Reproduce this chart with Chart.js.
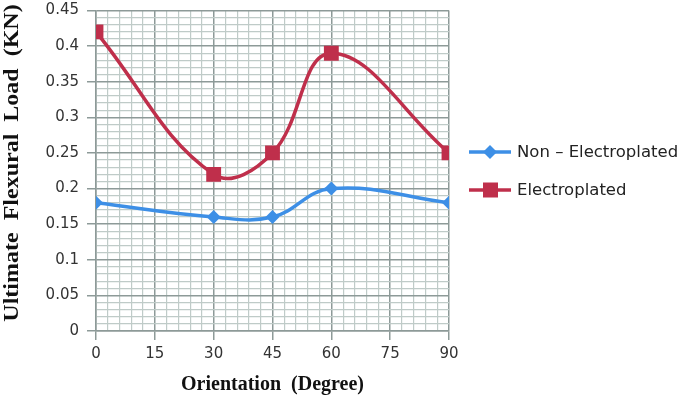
<!DOCTYPE html>
<html>
<head>
<meta charset="utf-8">
<script src="https://cdn.jsdelivr.net/npm/chart.js@4"></script>
<style>
  body { margin: 0; background: #fff; }
</style>
</head>
<body>
<canvas id="grafico" width="685" height="401"></canvas>
<script>
const orientaciones = [0, 30, 45, 60, 90];
const noElectro = [0.18, 0.16, 0.16, 0.20, 0.18];
const electro = [0.42, 0.22, 0.25, 0.39, 0.25];
const nombres = ["Non \u2013 Electroplated", "Electroplated"];
const tituloY = "Ultimate  Flexural  Load  (KN)";

const azul = "#3d8fe6";
const rojo = "#bf2f4b";
const gridMayor = "#8d9a98";
const gridMenor = "#bfcbc8";

function puntos(valores) {
  return orientaciones.map((x, i) => ({ x: x, y: valores[i] }));
}

// leyenda y titulo del eje Y dibujados a mano
const extras = {
  id: "extras",
  afterDraw(chart) {
    const ctx = chart.ctx;
    const items = [
      { color: azul, y: 152, forma: "diamante" },
      { color: rojo, y: 190, forma: "cuadro" }
    ];
    ctx.save();
    items.forEach((it, i) => {
      ctx.strokeStyle = it.color;
      ctx.lineWidth = 3.5;
      ctx.beginPath();
      ctx.moveTo(469, it.y);
      ctx.lineTo(511, it.y);
      ctx.stroke();
      ctx.fillStyle = it.color;
      ctx.beginPath();
      if (it.forma === "diamante") {
        ctx.moveTo(490, it.y - 7);
        ctx.lineTo(497, it.y);
        ctx.lineTo(490, it.y + 7);
        ctx.lineTo(483, it.y);
      } else {
        ctx.rect(483, it.y - 7.5, 15, 15);
      }
      ctx.closePath();
      ctx.fill();
      ctx.fillStyle = "#222";
      ctx.font = "16.5px 'DejaVu Sans'";
      ctx.textBaseline = "middle";
      ctx.textAlign = "left";
      ctx.fillText(nombres[i], 517, it.y + 1);
    });

    ctx.translate(13, 163);
    ctx.rotate(-Math.PI / 2);
    ctx.scale(1.2, 1);
    ctx.fillStyle = "#111";
    ctx.font = "bold 20px 'Liberation Serif'";
    ctx.textAlign = "center";
    ctx.textBaseline = "middle";
    ctx.fillText(tituloY, 0, 0);
    ctx.restore();
  }
};

const esMayorX = v => Math.round(v) % 15 === 0;
const esMayorY = v => Math.round(v * 100) % 5 === 0;

const ctx = document.getElementById("grafico").getContext("2d");
new Chart(ctx, {
  type: "line",
  data: {
    datasets: [{
      label: nombres[0],
      data: puntos(noElectro),
      borderColor: azul,
      backgroundColor: azul,
      borderWidth: 3.5,
      pointStyle: "rectRot",
      pointRadius: 7,
      pointBorderWidth: 0,
      tension: 0.4
    }, {
      label: nombres[1],
      data: puntos(electro),
      borderColor: rojo,
      backgroundColor: rojo,
      borderWidth: 3.5,
      pointStyle: "rect",
      pointRadius: 10.5,
      pointBorderWidth: 0,
      tension: 0.4
    }]
  },
  options: {
    responsive: false,
    animation: false,
    layout: { padding: { left: 0, right: 236, top: 6, bottom: 0 } },
    plugins: {
      legend: { display: false },
      tooltip: { enabled: false }
    },
    scales: {
      x: {
        type: "linear",
        min: 0,
        max: 90,
        afterFit(scale) { scale.height = 70; },
        ticks: {
          stepSize: 3,
          autoSkip: false,
          maxRotation: 0,
          padding: 5,
          color: "#333",
          font: { family: "DejaVu Sans", size: 15 },
          callback: v => esMayorX(v) ? String(Math.round(v)) : ""
        },
        grid: {
          color: c => esMayorX(c.tick.value) ? gridMayor : gridMenor,
          lineWidth: c => esMayorX(c.tick.value) ? 1.5 : 1.2,
          tickColor: c => esMayorX(c.tick.value) ? gridMayor : "rgba(0,0,0,0)",
          tickLength: 9
        },
        border: { color: gridMayor, width: 1.5 },
        title: {
          display: true,
          text: "Orientation  (Degree)",
          color: "#111",
          font: { family: "Liberation Serif", size: 20, weight: "bold" },
          padding: { top: 4 }
        }
      },
      y: {
        min: 0,
        max: 0.45,
        afterFit(scale) {
          scale.width = 96;
          scale.paddingTop = 0;
          scale.paddingBottom = 0;
        },
        ticks: {
          stepSize: 0.01,
          autoSkip: false,
          maxTicksLimit: 100,
          padding: 8,
          color: "#333",
          font: { family: "DejaVu Sans", size: 15 },
          callback: v => esMayorY(v) ? String(Math.round(v * 100) / 100) : ""
        },
        grid: {
          color: c => esMayorY(c.tick.value) ? gridMayor : gridMenor,
          lineWidth: c => esMayorY(c.tick.value) ? 1.5 : 1.2,
          tickColor: c => esMayorY(c.tick.value) ? gridMayor : "rgba(0,0,0,0)",
          tickLength: 9
        },
        border: { color: gridMayor, width: 1.5 }
      }
    }
  },
  plugins: [extras]
});
</script>
</body>
</html>
